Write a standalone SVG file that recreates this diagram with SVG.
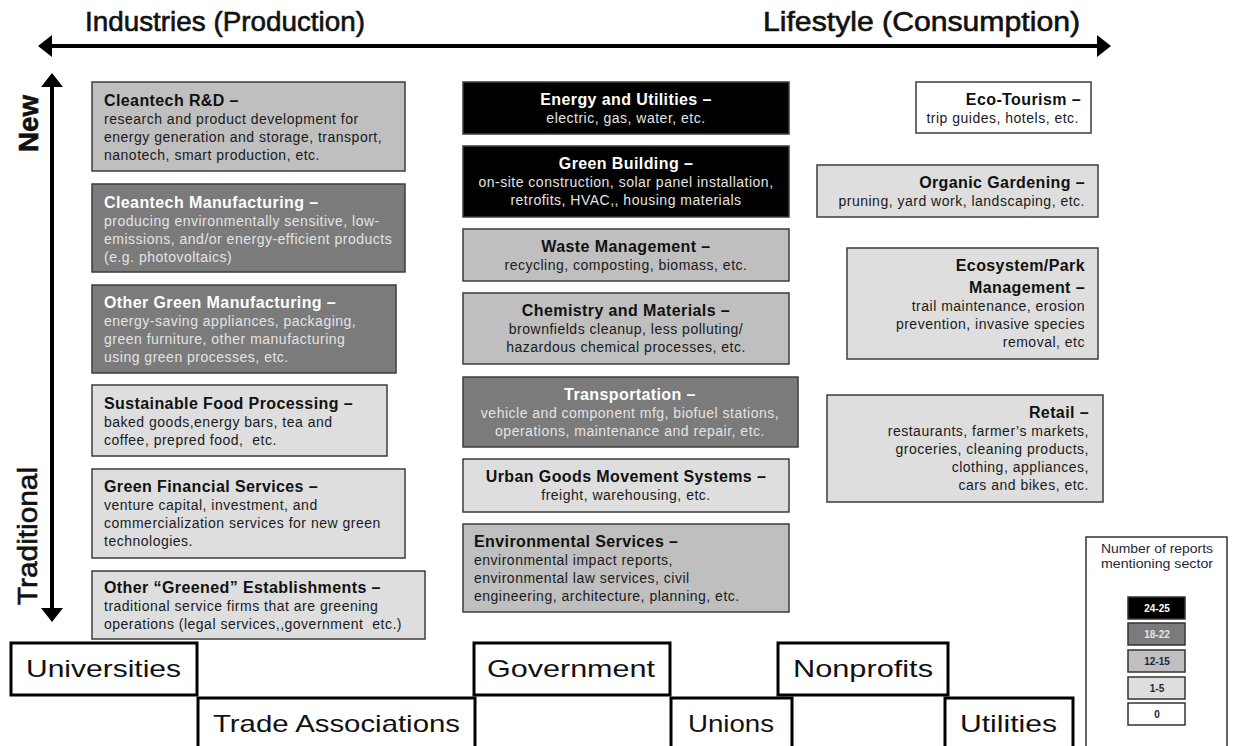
<svg xmlns="http://www.w3.org/2000/svg" width="1238" height="746" viewBox="0 0 1238 746">
<defs>
<style>
text{font-family:"Liberation Sans",Arial,sans-serif;}
.t{font-weight:bold;font-size:16px;letter-spacing:0.4px;fill:#111;}
.b{font-size:14px;letter-spacing:0.5px;fill:#1a1a1a;}
.c{text-anchor:middle;}
.r{text-anchor:end;}
.box{stroke:#3c3c3c;stroke-width:1.5;}
.k{fill:#000;}
.d{fill:#7b7b7b;}
.m{fill:#bfbfbf;}
.l{fill:#dedede;}
.w{fill:#fff;}
.inv .t{fill:#fff;}
.inv .b{fill:#e4e4e4;}
.org rect{fill:#fff;stroke:#000;stroke-width:3;}
.org text{font-size:24px;fill:#111;}
.axis{font-size:27px;fill:#111;stroke:#111;stroke-width:0.6px;}
.ax{stroke:#000;stroke-width:4;fill:none;}
.sw{stroke:#333;stroke-width:1.5;}
.sl{font-size:10px;font-weight:bold;text-anchor:middle;}
</style>
<marker id="ah" viewBox="0 0 14 22" refX="0" refY="11" markerWidth="14" markerHeight="22" orient="auto-start-reverse" markerUnits="userSpaceOnUse"><path d="M0,0 L14,11 L0,22 z" fill="#000"/></marker>
</defs>
<rect width="1238" height="746" fill="#fff"/>

<g id="axis-labels">
<text class="axis" x="85" y="31" textLength="280" lengthAdjust="spacingAndGlyphs">Industries (Production)</text>
<text class="axis" x="763" y="31" textLength="317" lengthAdjust="spacingAndGlyphs">Lifestyle (Consumption)</text>
<text class="axis" font-weight="bold" transform="translate(38,152) rotate(-90)" textLength="57" lengthAdjust="spacingAndGlyphs">New</text>
<text class="axis" transform="translate(37,605) rotate(-90)" textLength="138" lengthAdjust="spacingAndGlyphs">Traditional</text>
</g>

<g id="connectors">
<line class="ax" x1="52" y1="46" x2="1097" y2="46" marker-start="url(#ah)" marker-end="url(#ah)"/>
<line class="ax" x1="52" y1="87" x2="52" y2="608" marker-start="url(#ah)" marker-end="url(#ah)"/>
</g>

<g id="cleantech-rd">
<rect class="box m" x="92" y="82" width="313" height="89"/>
<text class="t" x="104" y="106">Cleantech R&amp;D –</text>
<text class="b" x="104" y="124">research and product development for</text>
<text class="b" x="104" y="142">energy generation and storage, transport,</text>
<text class="b" x="104" y="160">nanotech, smart production, etc.</text>
</g>
<g id="cleantech-manufacturing" class="inv">
<rect class="box d" x="92" y="184" width="313" height="88"/>
<text class="t" x="104" y="208">Cleantech Manufacturing –</text>
<text class="b" x="104" y="226">producing environmentally sensitive, low-</text>
<text class="b" x="104" y="244">emissions, and/or energy-efficient products</text>
<text class="b" x="104" y="262">(e.g. photovoltaics)</text>
</g>
<g id="other-green-manufacturing" class="inv">
<rect class="box d" x="92" y="285" width="304" height="88"/>
<text class="t" x="104" y="308">Other Green Manufacturing –</text>
<text class="b" x="104" y="326">energy-saving appliances, packaging,</text>
<text class="b" x="104" y="344">green furniture, other manufacturing</text>
<text class="b" x="104" y="362">using green processes, etc.</text>
</g>
<g id="sustainable-food">
<rect class="box l" x="92" y="385" width="295" height="71"/>
<text class="t" x="104" y="409">Sustainable Food Processing –</text>
<text class="b" x="104" y="427">baked goods,energy bars, tea and</text>
<text class="b" x="104" y="445">coffee, prepred food,&#160; etc.</text>
</g>
<g id="green-financial">
<rect class="box l" x="92" y="469" width="313" height="89"/>
<text class="t" x="104" y="492">Green Financial Services –</text>
<text class="b" x="104" y="510">venture capital, investment, and</text>
<text class="b" x="104" y="528">commercialization services for new green</text>
<text class="b" x="104" y="546">technologies.</text>
</g>
<g id="other-greened">
<rect class="box l" x="92" y="571" width="333" height="68"/>
<text class="t" x="104" y="593">Other “Greened” Establishments –</text>
<text class="b" x="104" y="611">traditional service firms that are greening</text>
<text class="b" x="104" y="629">operations (legal services,,government&#160; etc.)</text>
</g>

<g id="energy-utilities" class="inv">
<rect class="box k" x="463" y="82" width="326" height="52"/>
<text class="t c" x="626" y="105">Energy and Utilities –</text>
<text class="b c" x="626" y="123">electric, gas, water, etc.</text>
</g>
<g id="green-building" class="inv">
<rect class="box k" x="463" y="146" width="326" height="71"/>
<text class="t c" x="626" y="169">Green Building –</text>
<text class="b c" x="626" y="187">on-site construction, solar panel installation,</text>
<text class="b c" x="626" y="205">retrofits, HVAC,, housing materials</text>
</g>
<g id="waste-management">
<rect class="box m" x="463" y="229" width="326" height="52"/>
<text class="t c" x="626" y="252">Waste Management –</text>
<text class="b c" x="626" y="270">recycling, composting, biomass, etc.</text>
</g>
<g id="chemistry-materials">
<rect class="box m" x="463" y="293" width="326" height="71"/>
<text class="t c" x="626" y="316">Chemistry and Materials –</text>
<text class="b c" x="626" y="334">brownfields cleanup, less polluting/</text>
<text class="b c" x="626" y="352">hazardous chemical processes, etc.</text>
</g>
<g id="transportation" class="inv">
<rect class="box d" x="463" y="377" width="335" height="70"/>
<text class="t c" x="630" y="400">Transportation –</text>
<text class="b c" x="630" y="418">vehicle and component mfg, biofuel stations,</text>
<text class="b c" x="630" y="436">operations, maintenance and repair, etc.</text>
</g>
<g id="urban-goods">
<rect class="box l" x="463" y="459" width="326" height="53"/>
<text class="t c" x="626" y="482">Urban Goods Movement Systems –</text>
<text class="b c" x="626" y="500">freight, warehousing, etc.</text>
</g>
<g id="environmental-services">
<rect class="box m" x="463" y="524" width="326" height="88"/>
<text class="t" x="474" y="547">Environmental Services –</text>
<text class="b" x="474" y="565">environmental impact reports,</text>
<text class="b" x="474" y="583">environmental law services, civil</text>
<text class="b" x="474" y="601">engineering, architecture, planning, etc.</text>
</g>

<g id="eco-tourism">
<rect class="box w" x="916" y="82" width="175" height="51"/>
<text class="t r" x="1081" y="105">Eco-Tourism –</text>
<text class="b r" x="1079" y="123">trip guides, hotels, etc.</text>
</g>
<g id="organic-gardening">
<rect class="box l" x="817" y="165" width="281" height="52"/>
<text class="t r" x="1085" y="188">Organic Gardening –</text>
<text class="b r" x="1085" y="206">pruning, yard work, landscaping, etc.</text>
</g>
<g id="ecosystem-park">
<rect class="box l" x="847" y="248" width="251" height="111"/>
<text class="t r" x="1085" y="271">Ecosystem/Park</text>
<text class="t r" x="1085" y="293">Management –</text>
<text class="b r" x="1085" y="311">trail maintenance, erosion</text>
<text class="b r" x="1085" y="329">prevention, invasive species</text>
<text class="b r" x="1085" y="347">removal, etc</text>
</g>
<g id="retail">
<rect class="box l" x="827" y="395" width="276" height="107"/>
<text class="t r" x="1089" y="418">Retail –</text>
<text class="b r" x="1089" y="436">restaurants, farmer’s markets,</text>
<text class="b r" x="1089" y="454">groceries, cleaning products,</text>
<text class="b r" x="1089" y="472">clothing, appliances,</text>
<text class="b r" x="1089" y="490">cars and bikes, etc.</text>
</g>

<g id="legend">
<rect x="1086" y="537" width="141" height="215" fill="#fff" stroke="#333" stroke-width="1.5"/>
<text x="1157" y="553" font-size="12" fill="#1e2638" text-anchor="middle" textLength="112" lengthAdjust="spacingAndGlyphs">Number of reports</text>
<text x="1157" y="568" font-size="12" fill="#1e2638" text-anchor="middle" textLength="112" lengthAdjust="spacingAndGlyphs">mentioning sector</text>
<rect class="sw k" x="1128" y="597" width="57" height="22"/>
<text class="sl" x="1157" y="612" fill="#fff">24-25</text>
<rect class="sw d" x="1128" y="623" width="57" height="22"/>
<text class="sl" x="1157" y="638" fill="#e6e6e6">18-22</text>
<rect class="sw m" x="1128" y="650" width="57" height="22"/>
<text class="sl" x="1157" y="665" fill="#1e2638">12-15</text>
<rect class="sw l" x="1128" y="677" width="57" height="22"/>
<text class="sl" x="1157" y="692" fill="#1e2638">1-5</text>
<rect class="sw w" x="1128" y="703" width="57" height="22"/>
<text class="sl" x="1157" y="718" fill="#1e2638">0</text>
</g>

<g id="universities" class="org">
<rect x="11" y="643" width="186" height="52"/>
<text x="26" y="677" textLength="155" lengthAdjust="spacingAndGlyphs">Universities</text>
</g>
<g id="government" class="org">
<rect x="474" y="643" width="196" height="52"/>
<text x="487" y="677" textLength="168" lengthAdjust="spacingAndGlyphs">Government</text>
</g>
<g id="nonprofits" class="org">
<rect x="778" y="643" width="170" height="52"/>
<text x="793" y="677" textLength="140" lengthAdjust="spacingAndGlyphs">Nonprofits</text>
</g>
<g id="trade-associations" class="org">
<rect x="198" y="698" width="277" height="60"/>
<text x="213" y="732" textLength="247" lengthAdjust="spacingAndGlyphs">Trade Associations</text>
</g>
<g id="unions" class="org">
<rect x="671" y="698" width="121" height="60"/>
<text x="688" y="732" textLength="86" lengthAdjust="spacingAndGlyphs">Unions</text>
</g>
<g id="utilities" class="org">
<rect x="945" y="698" width="128" height="60"/>
<text x="960" y="732" textLength="97" lengthAdjust="spacingAndGlyphs">Utilities</text>
</g>
</svg>
